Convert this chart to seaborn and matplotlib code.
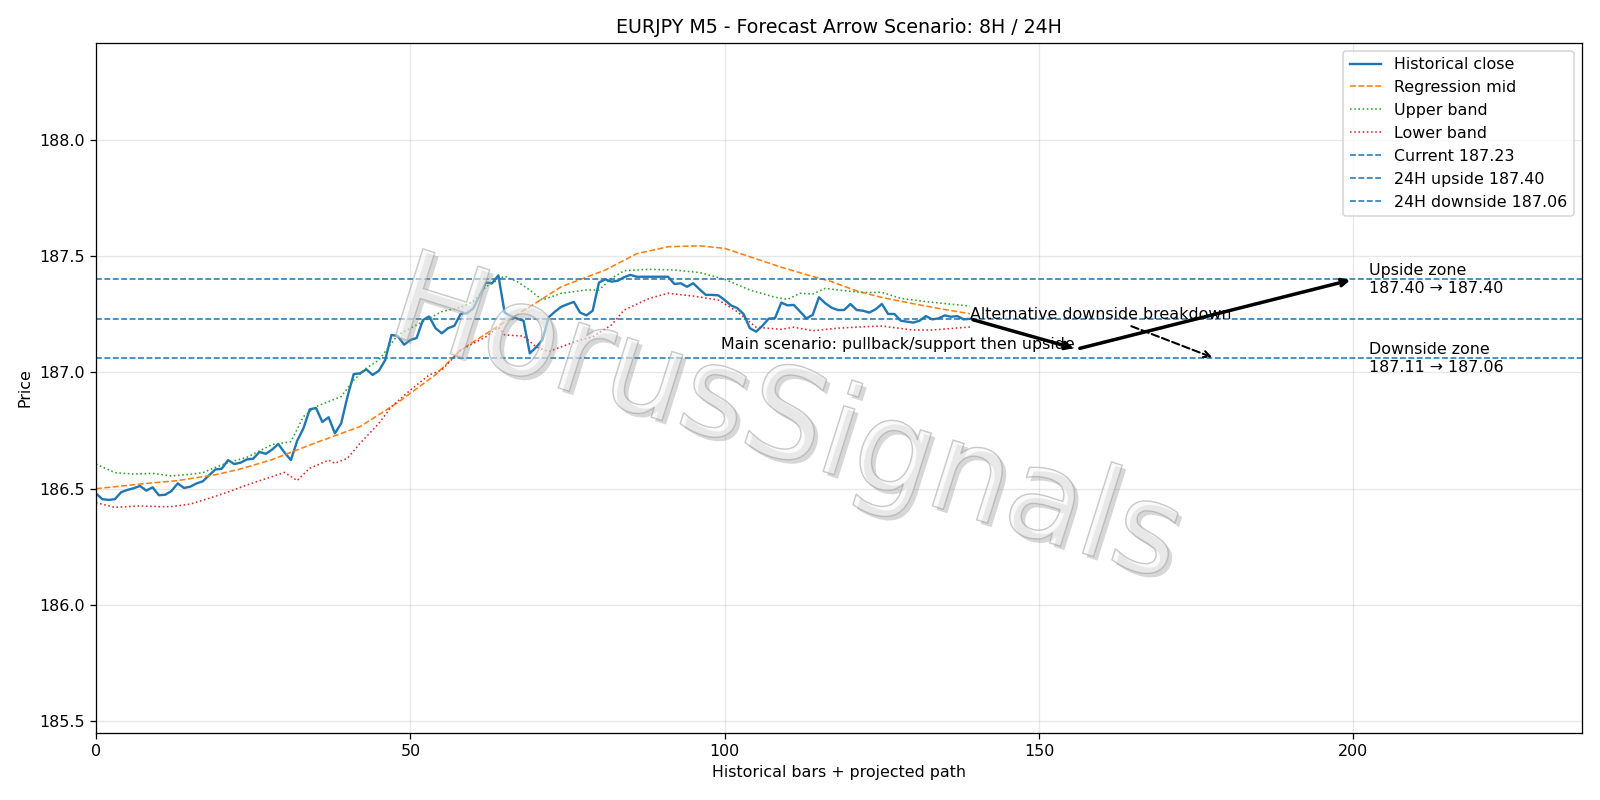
import numpy as np
import pandas as pd
import seaborn as sns
import matplotlib
matplotlib.use("Agg")
import matplotlib.pyplot as plt
from matplotlib.textpath import TextPath
from matplotlib.patches import PathPatch
from matplotlib.font_manager import FontProperties
from matplotlib.transforms import Affine2D

# ----------------------------
# Data
# ----------------------------
close = [
    186.480, 186.455, 186.452, 186.455, 186.485, 186.495, 186.502, 186.512, 186.492, 186.506,
    186.472, 186.474, 186.490, 186.523, 186.503, 186.509, 186.523, 186.532, 186.558, 186.583,
    186.586, 186.623, 186.606, 186.612, 186.626, 186.629, 186.658, 186.650, 186.668, 186.692,
    186.655, 186.623, 186.706, 186.760, 186.841, 186.847, 186.787, 186.807, 186.738, 186.781,
    186.896, 186.993, 186.996, 187.013, 186.989, 187.007, 187.053, 187.161, 187.156, 187.119,
    187.139, 187.148, 187.225, 187.240, 187.190, 187.168, 187.190, 187.200, 187.251, 187.254,
    187.275, 187.328, 187.386, 187.383, 187.417, 187.257, 187.242, 187.231, 187.222, 187.082,
    187.108, 187.139, 187.237, 187.261, 187.282, 187.293, 187.303, 187.257, 187.245, 187.265,
    187.386, 187.400, 187.390, 187.394, 187.409, 187.419, 187.411, 187.411, 187.411, 187.411,
    187.411, 187.411, 187.380, 187.383, 187.368, 187.383, 187.357, 187.333, 187.333, 187.331,
    187.311, 187.288, 187.276, 187.251, 187.190, 187.175, 187.200, 187.231, 187.233, 187.300,
    187.288, 187.290, 187.261, 187.232, 187.247, 187.323, 187.297, 187.278, 187.268, 187.268,
    187.294, 187.268, 187.265, 187.257, 187.271, 187.294, 187.251, 187.251, 187.222, 187.218,
    187.214, 187.222, 187.242, 187.228, 187.232, 187.245, 187.239, 187.242, 187.228, 187.230,
]

mid_x = [0, 7, 13, 19, 23, 28, 35, 42, 48, 54, 58, 64, 69, 74, 81, 86, 91, 96, 100,
         104, 109, 113, 117, 121, 125, 130, 134, 139]
mid_y = [186.500, 186.520, 186.535, 186.560, 186.585, 186.625, 186.698, 186.767, 186.870,
         186.990, 187.096, 187.200, 187.282, 187.368, 187.440, 187.510, 187.540, 187.544,
         187.533, 187.497, 187.452, 187.420, 187.390, 187.350, 187.322, 187.295, 187.275,
         187.252]

upper_x = [0, 3, 6, 9, 12, 15, 17, 19, 21, 24, 28, 31, 33, 35, 39, 41, 43, 45, 48, 51,
           55, 58, 60, 62, 65, 67, 69, 71, 74, 78, 80, 82, 84, 88, 92, 96, 100, 104, 108,
           110, 112, 114, 116, 119, 122, 125, 128, 132, 139]
upper_y = [186.606, 186.569, 186.563, 186.566, 186.555, 186.562, 186.569, 186.592, 186.612,
           186.635, 186.690, 186.702, 186.810, 186.853, 186.896, 186.967, 187.018, 187.053,
           187.161, 187.204, 187.261, 187.280, 187.304, 187.368, 187.414, 187.390, 187.354,
           187.311, 187.340, 187.354, 187.354, 187.404, 187.437, 187.443, 187.440, 187.429,
           187.400, 187.354, 187.323, 187.314, 187.340, 187.337, 187.361, 187.351, 187.343,
           187.344, 187.318, 187.304, 187.285]

lower_x = [0, 3, 7, 10, 12, 15, 18, 21, 24, 28, 30, 32, 34, 37, 38, 40, 42, 45, 47, 50,
           53, 55, 58, 62, 64, 65, 68, 70, 72, 74, 77, 79, 82, 84, 88, 91, 95, 99, 102,
           105, 109, 111, 114, 118, 122, 125, 130, 133, 139]
lower_y = [186.440, 186.420, 186.426, 186.423, 186.423, 186.434, 186.459, 186.486, 186.516,
           186.552, 186.570, 186.535, 186.588, 186.623, 186.609, 186.631, 186.695, 186.781,
           186.853, 186.924, 186.989, 187.010, 187.096, 187.153, 187.194, 187.161, 187.156,
           187.110, 187.089, 187.110, 187.139, 187.153, 187.204, 187.268, 187.318, 187.340,
           187.328, 187.311, 187.261, 187.194, 187.185, 187.194, 187.179, 187.190, 187.196,
           187.199, 187.182, 187.182, 187.195]

current_price = 187.23
up_24h = 187.40
down_24h = 187.06

# projected path: start -> pullback -> upside target
path_x = [139, 156, 200]
path_y = [187.23, 187.10, 187.40]
alt_end = (178, 187.06)

up_zone = (187.40, 187.40)
down_zone = (187.11, 187.06)

# ----------------------------
# Plot
# ----------------------------
DPI = 800 / 7
fig, ax = plt.subplots(figsize=(14, 7), dpi=DPI)
fig.subplots_adjust(left=0.06, right=0.9885, top=0.9465, bottom=0.084)

df = pd.DataFrame({"bar": np.arange(len(close)), "close": close})
sns.lineplot(data=df, x="bar", y="close", ax=ax, color="C0", linewidth=1.5,
             label="Historical close")
sns.lineplot(x=mid_x, y=mid_y, ax=ax, color="C1", linestyle="--", linewidth=1.0,
             label="Regression mid")
sns.lineplot(x=upper_x, y=upper_y, ax=ax, color="C2", linestyle=":", linewidth=1.0,
             label="Upper band")
sns.lineplot(x=lower_x, y=lower_y, ax=ax, color="C3", linestyle=":", linewidth=1.0,
             label="Lower band")

ax.axhline(current_price, color="C0", linestyle="--", linewidth=1.0,
           label=f"Current {current_price:.2f}")
ax.axhline(up_24h, color="C0", linestyle="--", linewidth=1.0,
           label=f"24H upside {up_24h:.2f}")
ax.axhline(down_24h, color="C0", linestyle="--", linewidth=1.0,
           label=f"24H downside {down_24h:.2f}")

# main scenario arrows
ax.annotate("", xy=(path_x[1], path_y[1]), xytext=(path_x[0], path_y[0]),
            arrowprops=dict(arrowstyle="->", lw=2.2, color="black"))
ax.annotate("", xy=(path_x[2], path_y[2]), xytext=(path_x[1], path_y[1]),
            arrowprops=dict(arrowstyle="->", lw=2.2, color="black"))
ax.text(99.4, 187.10, "Main scenario: pullback/support then upside")

# alternative scenario
ax.annotate("Alternative downside breakdown", xy=alt_end,
            xytext=(path_x[0], path_y[0]),
            arrowprops=dict(arrowstyle="->", lw=1.3, linestyle="--", color="black"))

ax.text(202.5, up_24h, f"Upside zone\n{up_zone[0]:.2f} \u2192 {up_zone[1]:.2f}",
        va="center")
ax.text(202.5, down_24h, f"Downside zone\n{down_zone[0]:.2f} \u2192 {down_zone[1]:.2f}",
        va="center")

# watermark: rotated text outline with a soft shadow
tp = TextPath((0, 0), "HorusSignals", size=1, prop=FontProperties(family="DejaVu Sans"))
ext = tp.get_extents()
base = (Affine2D().translate(-(ext.x0 + ext.x1) / 2, -0.36)
        .rotate_deg(-17.5).scale(126.0).translate(792.0, 800 - 414.0))
shadow = PathPatch(tp, transform=base + Affine2D().translate(4, -4),
                   facecolor="#8f8f8f", edgecolor="none", alpha=0.35, zorder=6)
face = PathPatch(tp, transform=base, facecolor="#f7f7f7", edgecolor="#a0a0a0",
                 linewidth=0.9, alpha=0.55, zorder=7)
fig.add_artist(shadow)
fig.add_artist(face)

ax.set_xlim(0, 236.3)
ax.set_ylim(185.451, 188.4165)
ax.grid(True, alpha=0.3)
ax.set_title("EURJPY M5 - Forecast Arrow Scenario: 8H / 24H")
ax.set_xlabel("Historical bars + projected path")
ax.set_ylabel("Price")
ax.legend(loc="upper right")

plt.savefig("out.png", dpi=DPI)
